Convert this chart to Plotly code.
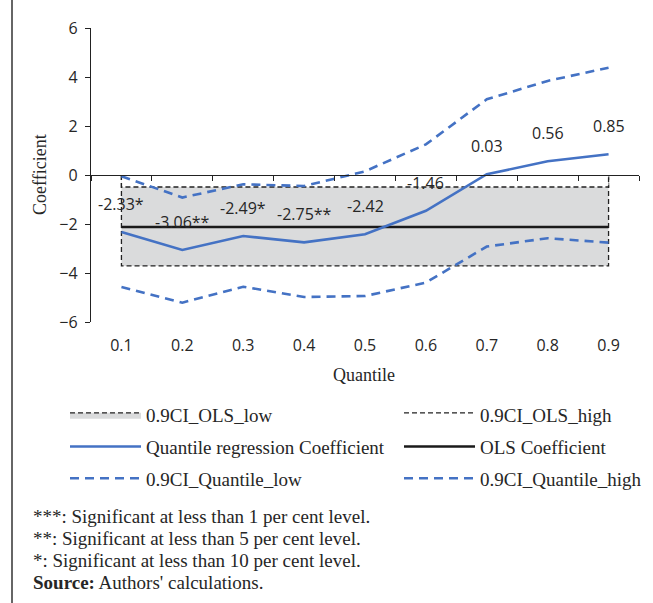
import plotly.graph_objects as go

# ---- data -------------------------------------------------------------
quantiles = ["0.1", "0.2", "0.3", "0.4", "0.5", "0.6", "0.7", "0.8", "0.9"]
qr_coef = [-2.33, -3.06, -2.49, -2.75, -2.42, -1.46, 0.03, 0.56, 0.85]
qr_stars = ["*", "**", "*", "**", "", "", "", "", ""]
qr_ci_low = [-4.57, -5.21, -4.56, -4.98, -4.94, -4.39, -2.92, -2.58, -2.76]
qr_ci_high = [-0.05, -0.92, -0.38, -0.45, 0.15, 1.25, 3.09, 3.84, 4.38]
ols_coef = -2.12
ols_ci_low = -3.71
ols_ci_high = -0.49
y_ticks = [-6, -4, -2, 0, 2, 4, 6]
footnotes = [
    "***: Significant at less than 1 per cent level.",
    "**: Significant at less than 5 per cent level.",
    "*: Significant at less than 10 per cent level.",
    "<b>Source:</b> Authors' calculations.",
]

# ---- layout constants ---------------------------------------------------
W, H = 653, 603
M_L, M_R, M_T, M_B = 91, 14, 28, 281
PW, PH = W - M_L - M_R, H - M_T - M_B
Y_RANGE = [-6, 6]

BLUE = "#4472C4"
GRAY_FILL = "#dadbdc"
TEXT = "#262626"
SANS = "Open Sans"
SERIF = "Liberation Serif"


def px_x(px):
    return (px - M_L) / PW


def px_y(py):
    return (H - M_B - py) / PH


n = len(quantiles)
xs = list(range(n))

fig = go.Figure()

# OLS confidence band drawn as two area series from zero
edge_x = [xs[0]] + xs + [xs[-1]]
fig.add_trace(go.Scatter(
    x=edge_x, y=[0] + [ols_ci_low] * n + [0], mode="lines", fill="toself",
    fillcolor=GRAY_FILL, line=dict(color="#222", width=1.3, dash="5px,3px"),
    name="0.9CI_OLS_low", legend="legend", legendgroup="a", legendrank=1,
    hoverinfo="skip"))
fig.add_trace(go.Scatter(
    x=edge_x, y=[0] + [ols_ci_high] * n + [0], mode="lines", fill="toself",
    fillcolor="white", line=dict(color="#222", width=1.3, dash="5px,3px"),
    name="0.9CI_OLS_high", legend="legend2", legendgroup="b", legendrank=1,
    hoverinfo="skip"))

# quantile regression confidence bounds
fig.add_trace(go.Scatter(
    x=xs, y=qr_ci_low, mode="lines",
    line=dict(color=BLUE, width=2.6, dash="9px,6px"),
    name="0.9CI_Quantile_low", legend="legend", legendgroup="c", legendrank=3))
fig.add_trace(go.Scatter(
    x=xs, y=qr_ci_high, mode="lines",
    line=dict(color=BLUE, width=2.6, dash="9px,6px"),
    name="0.9CI_Quantile_high", legend="legend2", legendgroup="d", legendrank=3))

# OLS coefficient and quantile regression coefficient
fig.add_trace(go.Scatter(
    x=xs, y=[ols_coef] * n, mode="lines",
    line=dict(color="#1a1a1a", width=2.6),
    name="OLS Coefficient", legend="legend2", legendgroup="e", legendrank=2))
fig.add_trace(go.Scatter(
    x=xs, y=qr_coef, mode="lines",
    line=dict(color=BLUE, width=2.6),
    name="Quantile regression Coefficient", legend="legend", legendgroup="f",
    legendrank=2))

# carrier for the axis drawn through zero
fig.add_trace(go.Scatter(x=xs, y=[None] * n, xaxis="x2", showlegend=False,
                         hoverinfo="skip"))

# value labels above the quantile coefficients
for x, v, s in zip(xs, qr_coef, qr_stars):
    fig.add_annotation(x=x, y=v, text=f"{v:.2f}{s}", showarrow=False,
                       yshift=28, yanchor="middle", xanchor="center",
                       font=dict(family=SANS, size=16, color=TEXT))

# axis titles
fig.add_annotation(xref="paper", yref="paper", x=px_x(40), y=px_y(175),
                   text="Coefficient", textangle=-90, showarrow=False,
                   xanchor="center", yanchor="middle",
                   font=dict(family=SERIF, size=18, color=TEXT))
fig.add_annotation(xref="paper", yref="paper", x=px_x(364), y=px_y(375),
                   text="Quantile", showarrow=False,
                   xanchor="center", yanchor="middle",
                   font=dict(family=SERIF, size=18, color=TEXT))

# notes under the legend
for i, line in enumerate(footnotes):
    fig.add_annotation(xref="paper", yref="paper", x=px_x(31),
                       y=px_y(516 + 22 * i), text=line, showarrow=False,
                       xanchor="left", yanchor="middle", align="left",
                       font=dict(family=SERIF, size=19, color=TEXT))

# frame line on the left edge
fig.add_shape(type="line", xref="paper", yref="paper",
              x0=px_x(12), x1=px_x(12), y0=px_y(0), y1=px_y(H),
              line=dict(color="#333", width=1.5))

legend_common = dict(
    orientation="v", xanchor="left", yanchor="top",
    font=dict(family=SERIF, size=19, color=TEXT),
    bgcolor="rgba(0,0,0,0)", itemwidth=71, tracegroupgap=4,
)

fig.update_layout(
    width=W, height=H,
    margin=dict(l=M_L, r=M_R, t=M_T, b=M_B, autoexpand=False),
    paper_bgcolor="white", plot_bgcolor="white",
    showlegend=True,
    legend=dict(x=px_x(65), y=px_y(396), **legend_common),
    legend2=dict(x=px_x(399), y=px_y(396), **legend_common),
    xaxis=dict(
        range=[-0.5, n - 0.5], tickvals=xs, ticktext=quantiles,
        showline=False, showgrid=False, zeroline=False, ticks="",
        ticklabelstandoff=12,
        tickfont=dict(family=SANS, size=16, color=TEXT),
    ),
    xaxis2=dict(
        overlaying="x", matches="x", anchor="free",
        position=(0 - Y_RANGE[0]) / (Y_RANGE[1] - Y_RANGE[0]),
        range=[-0.5, n - 0.5],
        tickvals=[i - 0.5 for i in range(n + 1)],
        showticklabels=False, ticks="outside", ticklen=5, tickwidth=1,
        tickcolor="#222", showline=True, linecolor="#222", linewidth=1.3,
        showgrid=False, zeroline=False, side="bottom",
    ),
    yaxis=dict(
        range=Y_RANGE, tickvals=y_ticks, showgrid=False, zeroline=False,
        showline=True, linecolor="#222", linewidth=1.3,
        ticks="outside", ticklen=5, tickcolor="#222",
        ticklabelstandoff=4,
        tickfont=dict(family=SANS, size=16, color=TEXT),
    ),
)

fig.write_html("out.html")
